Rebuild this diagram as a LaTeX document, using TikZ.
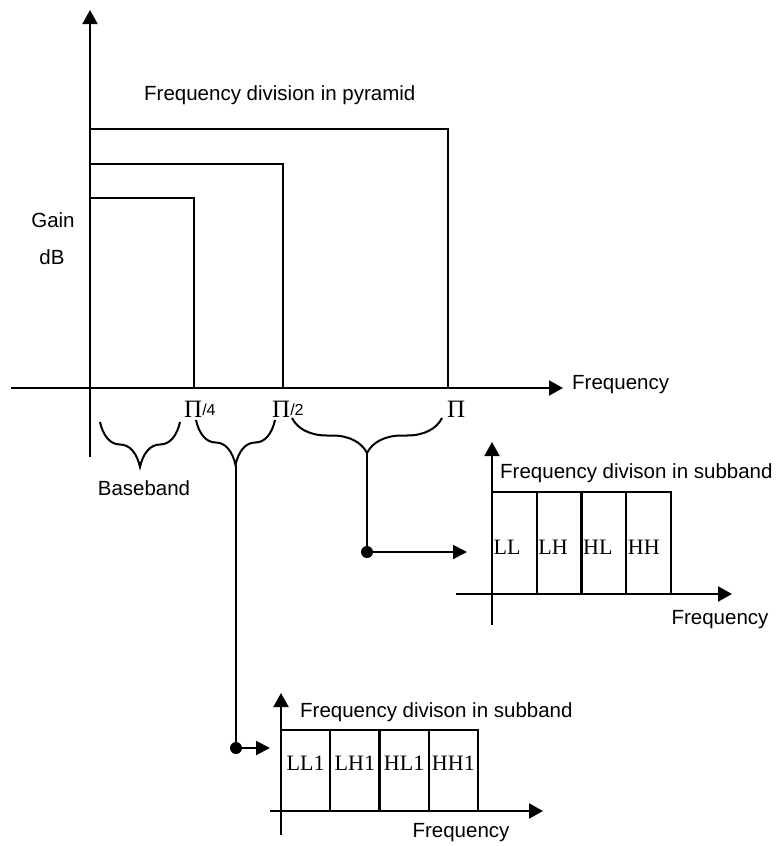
\documentclass[tikz,border=0pt]{standalone}
\usepackage{fontspec}
\setmainfont{Liberation Serif}
\setsansfont{Liberation Sans}
\usetikzlibrary{arrows.meta,decorations.pathreplacing}
\tikzset{
  axis/.style={line width=2pt,-{Triangle[length=14pt,width=15pt]}},
  level/.style={draw,line width=2pt},
  band/.style={draw,line width=2.2pt,inner sep=0pt},
  bracket/.style={decorate,decoration={brace,mirror,amplitude=#1},line width=2pt},
  link/.style={line width=2pt},
  pointer/.style={line width=2pt,-{Triangle[length=14pt,width=14pt]}},
  dot/.style={circle,fill,inner sep=0pt,minimum size=12pt},
  sans/.style={font=\sffamily\fontsize{20.5}{24}\selectfont,inner sep=0pt},
  bandtext/.style={font=\rmfamily\fontsize{22}{24}\selectfont,inner sep=0pt},
  pitext/.style={font=\rmfamily\fontsize{25}{28}\selectfont,inner sep=0pt}
}
\newcommand{\pidiv}[1]{\raisebox{2pt}{\sffamily\fontsize{16}{18}\selectfont/#1}}

\begin{document}
\begin{tikzpicture}[x=1pt,y=-1pt]
  \useasboundingbox (0,0) rectangle (779,846);

  % Pyramid: three nested pass bands over one axis pair.
  \coordinate (O) at (90,388);
  \draw[level] (O) rectangle (448,129);
  \draw[level] (O) rectangle (283,164);
  \draw[level] (O) rectangle (194,198);
  \draw[axis] (11,388) -- (563,388);
  \draw[axis] (90,457) -- (90,10);

  \node[sans,anchor=west] (title) at (144,95) {Frequency division in pyramid};
  \node[sans] (gain) at (53,220) {Gain};
  \node[sans] (db) at (52,257) {dB};
  \node[sans,anchor=west] (freq) at (572,385) {Frequency};

  \node[pitext,anchor=base west] (quarter) at (184,417) {Π\pidiv{4}};
  \node[pitext,anchor=base west] (half) at (272,417) {Π\pidiv{2}};
  \node[pitext,anchor=base west] (full) at (447,417) {Π};

  \draw[bracket=45] (100,422) -- (180,422);
  \draw[bracket=45] (196,420) -- (275,420);
  \draw[bracket=35] (292,418) -- (442,418);
  \node[sans] (base) at (144,488) {Baseband};

  \coordinate (hightip) at (367,453);
  \node[dot] (highdot) at (367,552) {};
  \coordinate (highend) at (467,552);
  \draw[link] (hightip) -- (highdot.center);
  \draw[pointer] (highdot.center) -- (highend);

  \coordinate (midtip) at (236,465);
  \node[dot] (middot) at (236,748) {};
  \coordinate (midend) at (270,748);
  \draw[link] (midtip) -- (middot.center);
  \draw[pointer] (middot.center) -- (midend);

  % Subband split of the upper octave.
  \foreach \name [count=\i from 0] in {LL,LH,HL,HH}{
    \node[band,minimum width=44.75pt,minimum height=102pt] (\name) at ({492+44.75*(\i+0.5)},543) {};
    \node[bandtext,anchor=west] at ({493.5+44.75*\i},547) {\name};
  }
  \draw[axis] (456,594) -- (732,594);
  \draw[axis] (492,625) -- (492,442);
  \node[sans,anchor=west] (subtitle) at (500,473) {Frequency divison in subband};
  \node[sans] (subfreq) at (720,620) {Frequency};

  % Subband split of the middle octave.
  \foreach \name [count=\i from 0] in {LL1,LH1,HL1,HH1}{
    \node[band,minimum width=49.25pt,minimum height=81pt] (\name) at ({281+49.25*(\i+0.5)},770.5) {};
    \node[bandtext] at ({281+49.25*(\i+0.5)},763) {\name};
  }
  \draw[axis] (270,811) -- (543,811);
  \draw[axis] (281,835) -- (281,693);
  \node[sans,anchor=west] (lowtitle) at (300,712) {Frequency divison in subband};
  \node[sans] (lowfreq) at (461,833) {Frequency};
\end{tikzpicture}
\end{document}
